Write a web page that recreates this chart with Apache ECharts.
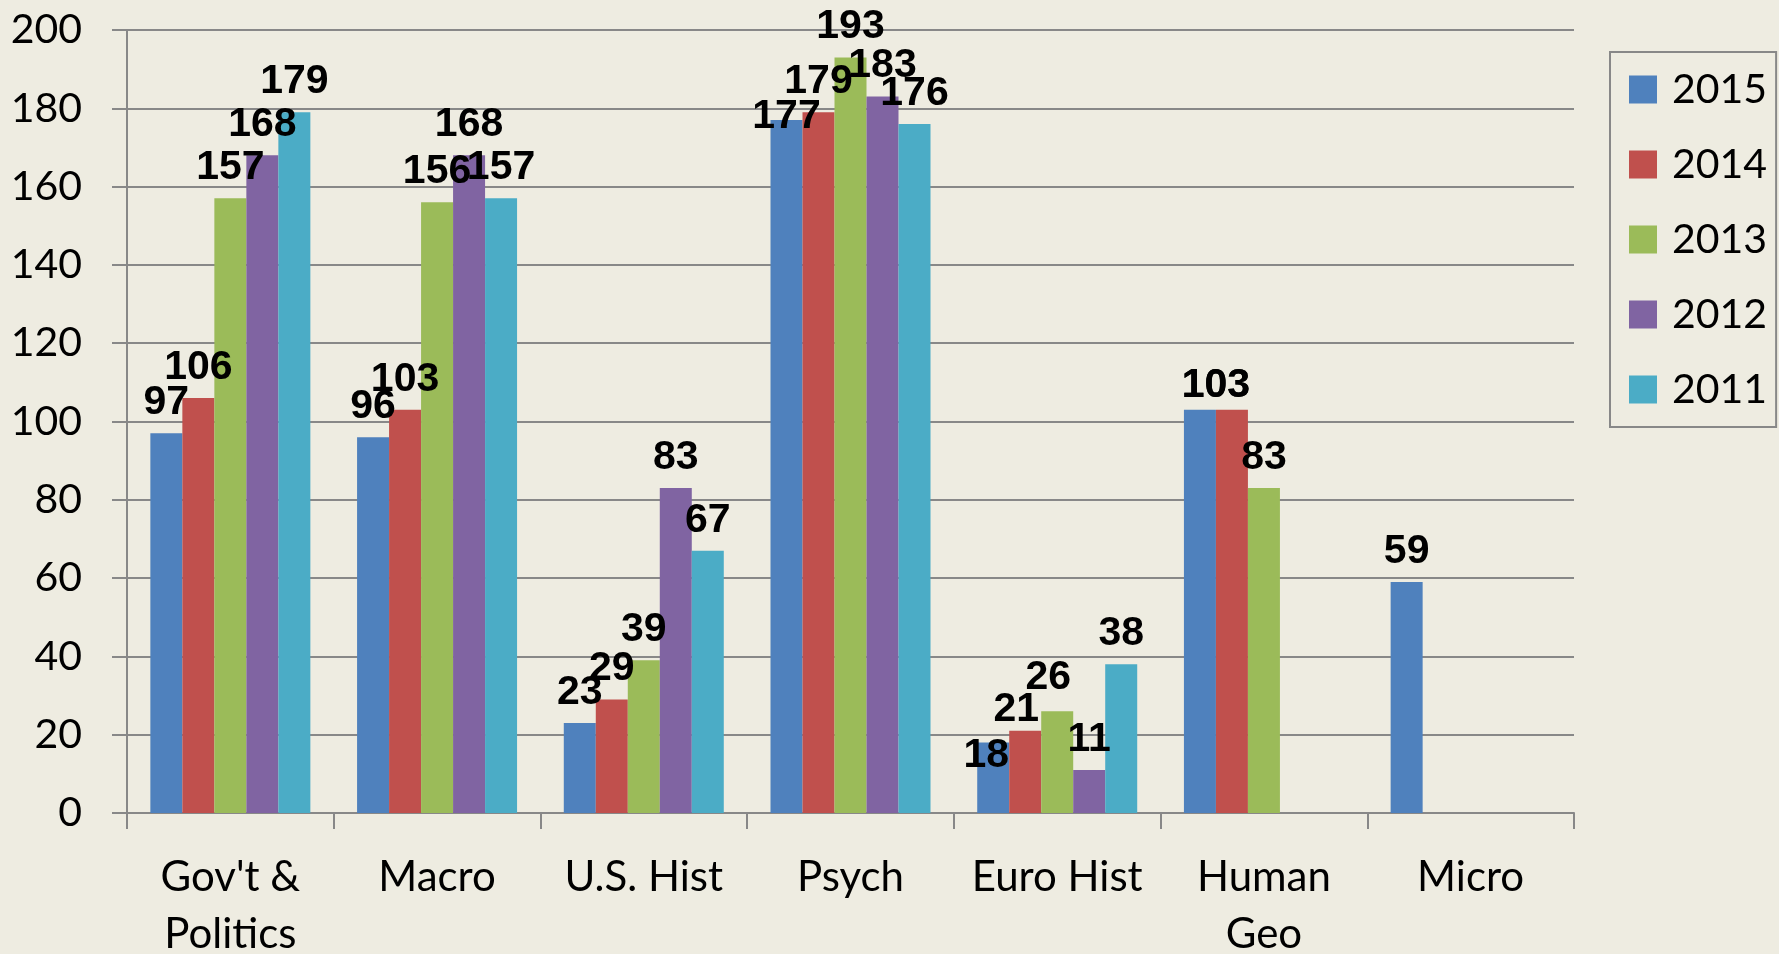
<!DOCTYPE html>
<html>
<head>
<meta charset="utf-8">
<script src="https://cdn.jsdelivr.net/npm/echarts@6/dist/echarts.min.js"></script>
<style>
  html, body { margin: 0; padding: 0; background: #EEECE1; }
  #myChart { width: 1779px; height: 954px; }
</style>
</head>
<body>
<div id="myChart"></div>
<script>
var categories = ["Gov't &\nPolitics", 'Macro', 'U.S. Hist', 'Psych', 'Euro Hist', 'Human\nGeo', 'Micro'];
var years = ['2015', '2014', '2013', '2012', '2011'];
var y2015 = [97, 96, 23, 177, 18, 103, 59];
var y2014 = [106, 103, 29, 179, 21, 103, null];
var y2013 = [157, 156, 39, 193, 26, 83, null];
var y2012 = [168, 168, 83, 183, 11, null, null];
var y2011 = [179, 157, 67, 176, 38, null, null];
var yTicks = [0, 200, 20];   // min, max, interval

// labels that the original nudged to avoid overlaps: 'series|categoryIndex' -> [dx, dy]
var labelShift = {
    '2015|3': [0, 27],
    '2015|4': [-7, 44],
    '2014|4': [-9, 9],
    '2013|4': [-9, -3],
    '2015|5': [16, 6],
    '2014|5': [-16, 6]
};

var colors = ['#4F81BD', '#C0504D', '#9BBB59', '#8064A2', '#4BACC6'];
var gridColor = '#888888';

var chart = echarts.init(document.querySelector('#myChart'));

function makeSeries(name, values) {
    var data = values.map(function (v, i) {
        var s = labelShift[name + '|' + i];
        if (!s) return v;
        return { value: v, label: { offset: s } };
    });
    return {
        name: name,
        type: 'bar',
        data: data,
        barGap: '0%',
        barCategoryGap: '22.6%',
        label: {
            show: true,
            position: 'top',
            distance: 10,
            color: '#000',
            fontFamily: 'Liberation Sans, Arial, sans-serif',
            fontWeight: 'bold',
            fontSize: 41
        }
    };
}

var option = {
    backgroundColor: '#EEECE1',
    color: colors,
    animation: false,
    grid: {
        left: 127,
        right: 205,
        top: 30,
        bottom: 141,
        containLabel: false,
        outerBoundsMode: 'none'
    },
    legend: {
        orient: 'vertical',
        left: 1610,
        top: 52,
        data: years,
        icon: 'rect',
        itemWidth: 28,
        itemHeight: 28,
        itemGap: 34,
        padding: [17, 9, 17, 19],
        borderColor: gridColor,
        borderWidth: 2,
        textStyle: {
            color: '#000',
            fontFamily: 'Lato, sans-serif',
            fontSize: 41,
            lineHeight: 40,
            padding: [0, 0, 0, 10]
        }
    },
    xAxis: {
        type: 'category',
        data: categories,
        axisLine: { lineStyle: { color: gridColor, width: 2 } },
        axisTick: { show: true, length: 16, lineStyle: { color: gridColor, width: 2 } },
        axisLabel: {
            color: '#000',
            fontFamily: 'Lato, sans-serif',
            fontSize: 42,
            lineHeight: 57,
            margin: 36,
            interval: 0
        }
    },
    yAxis: {
        type: 'value',
        min: yTicks[0],
        max: yTicks[1],
        interval: yTicks[2],
        axisLine: { show: true, lineStyle: { color: gridColor, width: 2 } },
        axisTick: { show: true, length: 15, lineStyle: { color: gridColor, width: 2 } },
        splitLine: { lineStyle: { color: gridColor, width: 2 } },
        axisLabel: {
            color: '#000',
            fontFamily: 'Lato, sans-serif',
            fontSize: 41,
            margin: 45
        }
    },
    series: [
        makeSeries(years[0], y2015),
        makeSeries(years[1], y2014),
        makeSeries(years[2], y2013),
        makeSeries(years[3], y2012),
        makeSeries(years[4], y2011)
    ]
};
chart.setOption(option);
</script>
</body>
</html>
